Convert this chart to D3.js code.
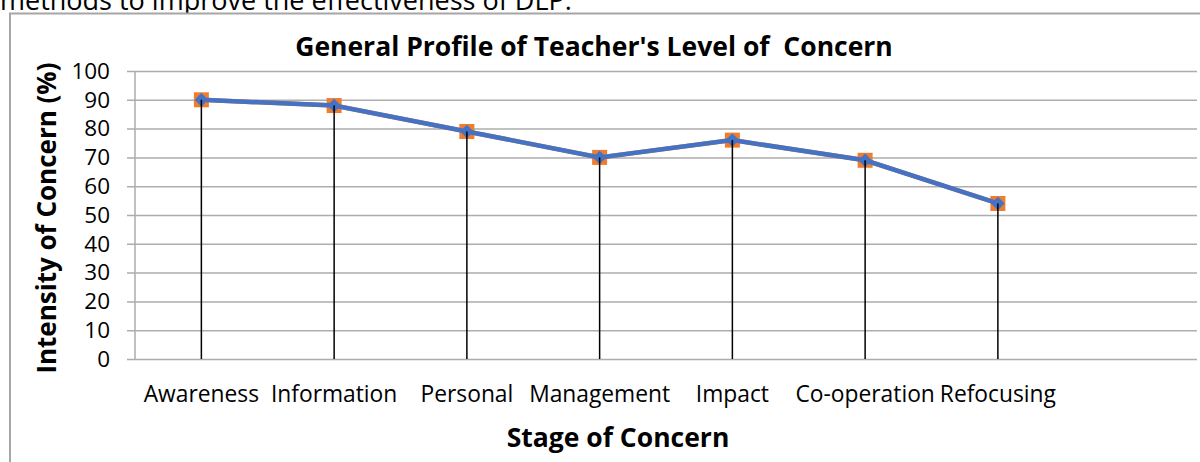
<!DOCTYPE html>
<html>
<head>
<meta charset="utf-8">
<script src="https://cdn.jsdelivr.net/npm/d3@7"></script>
<style>
  body { margin: 0; background: #fff; }
  svg { display: block; font-family: "Open Sans", sans-serif; }
</style>
</head>
<body>
<div id="chart"></div>
<script>
// chart values
const stages = ["Awareness", "Information", "Personal", "Management", "Impact", "Co-operation", "Refocusing"];
const seriesA = [90, 88, 79, 70, 76, 69, 54];   // orange squares
const seriesB = [90, 88, 79, 70, 76, 69, 54];   // blue diamonds
const yTicks = [0, 10, 20, 30, 40, 50, 60, 70, 80, 90, 100];

const width = 1200, height = 462;
const plot = {left: 135, right: 1197, top: 71, bottom: 359};
const slot = (plot.right - plot.left) / 8;

const svg = d3.select("#chart")
  .append("svg")
    .attr("width", width)
    .attr("height", height);

// piece of the document text above the chart (cut off in the source too)
svg.append("text")
  .attr("x", 0)
  .attr("y", 10)
  .attr("font-size", 27)
  .attr("fill", "#000")
  .text("methods to improve the effectiveness of DLP.");

// chart frame
svg.append("rect")
  .attr("x", 10)
  .attr("y", 13.5)
  .attr("width", 1300)
  .attr("height", 600)
  .attr("fill", "#fff")
  .attr("stroke", "#a6a6a6")
  .attr("stroke-width", 2);

const x = d3.scaleBand()
  .domain(stages)
  .range([plot.left, plot.left + slot * stages.length]);

const y = d3.scaleLinear()
  .domain([0, 100])
  .range([plot.bottom, plot.top]);

// y axis with gridlines
svg.append("g")
  .attr("transform", "translate(" + (plot.left - 8) + ",0)")
  .call(d3.axisLeft(y).tickValues(yTicks).tickSize(-(plot.right - plot.left + 8)).tickPadding(17))
  .call(g => g.select(".domain").remove())
  .call(g => g.selectAll(".tick line").attr("stroke", "#adadad").attr("stroke-width", 1.5))
  .call(g => g.selectAll(".tick text")
      .attr("font-family", "Open Sans")
      .attr("font-size", 22.5)
      .attr("fill", "#000"));

svg.append("line")
  .attr("x1", plot.left).attr("x2", plot.left)
  .attr("y1", plot.top).attr("y2", plot.bottom)
  .attr("stroke", "#adadad")
  .attr("stroke-width", 1.5);

// x axis labels
svg.append("g")
  .attr("transform", "translate(0," + plot.bottom + ")")
  .call(d3.axisBottom(x).tickSize(0))
  .call(g => g.select(".domain").remove())
  .call(g => g.selectAll(".tick text")
      .attr("y", 43)
      .attr("dy", 0)
      .attr("font-family", "Open Sans")
      .attr("font-size", 22.8)
      .attr("fill", "#000"));

const cx = d => x(d) + x.bandwidth() / 2;

// series 1 (orange)
const lineA = d3.line()
  .x((d, i) => cx(stages[i]))
  .y(d => y(d));

svg.append("path")
  .datum(seriesA)
  .attr("d", lineA)
  .attr("fill", "none")
  .attr("stroke", "#ed7d31")
  .attr("stroke-width", 4.5);

svg.append("g")
  .selectAll("rect")
  .data(seriesA)
  .join("rect")
    .attr("x", (d, i) => cx(stages[i]) - 7.5)
    .attr("y", d => y(d) - 7.5)
    .attr("width", 15)
    .attr("height", 15)
    .attr("fill", "#ed7d31");

// series 2 (blue)
svg.append("path")
  .datum(seriesB)
  .attr("d", lineA)
  .attr("fill", "none")
  .attr("stroke", "#4472c4")
  .attr("stroke-width", 4.5);

svg.append("g")
  .selectAll("path")
  .data(seriesB)
  .join("path")
    .attr("d", d3.symbol(d3.symbolSquare, 90))
    .attr("transform", (d, i) => "translate(" + cx(stages[i]) + "," + y(d) + ") rotate(45)")
    .attr("fill", "#4472c4");

// drop lines
svg.append("g")
  .selectAll("line")
  .data(seriesB)
  .join("line")
    .attr("x1", (d, i) => cx(stages[i]))
    .attr("x2", (d, i) => cx(stages[i]))
    .attr("y1", d => y(d))
    .attr("y2", y(0))
    .attr("stroke", "#000")
    .attr("stroke-width", 1.5);

// titles
svg.append("text")
  .attr("x", 594)
  .attr("y", 56)
  .attr("text-anchor", "middle")
  .attr("font-size", 26.5)
  .attr("font-weight", "bold")
  .style("white-space", "pre")
  .text("General Profile of Teacher's Level of  Concern");

svg.append("text")
  .attr("transform", "translate(56," + 218 + ") rotate(-90)")
  .attr("text-anchor", "middle")
  .attr("font-size", 26)
  .attr("font-weight", "bold")
  .text("Intensity of Concern (%)");

svg.append("text")
  .attr("x", 618)
  .attr("y", 447)
  .attr("text-anchor", "middle")
  .attr("font-size", 26.5)
  .attr("font-weight", "bold")
  .text("Stage of Concern");
</script>
</body>
</html>
